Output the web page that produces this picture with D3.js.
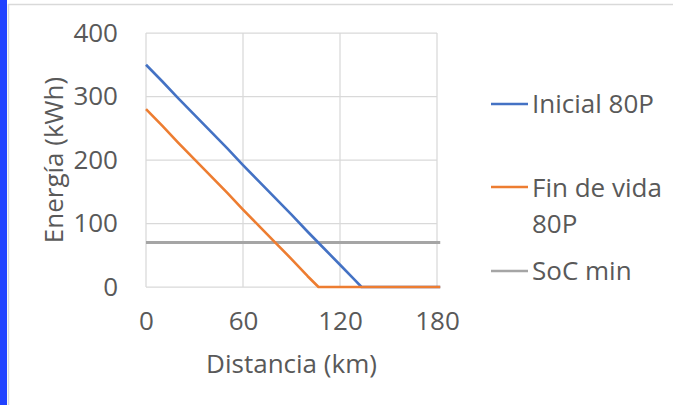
<!DOCTYPE html>
<html>
<head>
<meta charset="utf-8">
<script src="https://cdn.jsdelivr.net/npm/d3@7"></script>
<style>
  html, body { margin: 0; padding: 0; background: #ffffff; }
  svg { display: block; }
  text { font-family: "Open Sans", "Noto Sans", sans-serif; fill: #595959; }
</style>
</head>
<body>
<svg id="chart" width="673" height="405"></svg>
<script>
// ---- Data ----
const seriesNames = ["Inicial 80P", "Fin de vida 80P", "SoC min"];
const inicialX = [0, 10, 20, 30, 40, 50, 60, 70, 80, 90, 100, 110, 120, 130, 133.3, 150, 182];
const inicialY = [350, 324, 297, 271, 245, 219, 192, 166, 140, 114, 87, 61, 35, 9, 0, 0, 0];
const finVidaX = [0, 10, 20, 30, 40, 50, 60, 70, 80, 90, 100, 106.7, 140, 182];
const finVidaY = [280, 254, 227, 201, 175, 149, 122, 96, 70, 44, 17, 0, 0, 0];
const socMinX = [0, 182];
const socMinY = [70, 70];
const xTicks = [0, 60, 120, 180];
const yTicks = [0, 100, 200, 300, 400];
const xTitle = "Distancia (km)";
const yTitle = "Energía (kWh)";

const colors = ["#4472C4", "#ED7D31", "#A5A5A5"];
const FS = 26;

const svg = d3.select("#chart");

// page frame
svg.append("rect").attr("x", 0).attr("y", 0).attr("width", 7).attr("height", 405).attr("fill", "#2042ff");
svg.append("line").attr("x1", 8.5).attr("x2", 8.5).attr("y1", 4).attr("y2", 405)
  .attr("stroke", "#d9d9d9").attr("stroke-width", 1.5);
svg.append("line").attr("x1", 8).attr("x2", 673).attr("y1", 4.5).attr("y2", 4.5)
  .attr("stroke", "#d9d9d9").attr("stroke-width", 1.5);

const x = d3.scaleLinear().domain([0, 180]).range([146, 437]);
const y = d3.scaleLinear().domain([0, 400]).range([287, 33]);

// gridlines
const grid = svg.append("g");
grid.selectAll("line.h").data(yTicks).join("line")
  .attr("x1", x(0)).attr("x2", x(180))
  .attr("y1", d => y(d)).attr("y2", d => y(d))
  .attr("stroke", "#d9d9d9").attr("stroke-width", 1.25);
grid.selectAll("line.v").data(xTicks).join("line")
  .attr("x1", d => x(d)).attr("x2", d => x(d))
  .attr("y1", y(0)).attr("y2", y(400))
  .attr("stroke", "#d9d9d9").attr("stroke-width", 1.25);

// axes (labels only)
const yAxis = svg.append("g").attr("transform", `translate(${x(0)},0)`)
  .call(d3.axisLeft(y).tickValues(yTicks).tickSize(0).tickPadding(28));
const xAxis = svg.append("g").attr("transform", `translate(0,${y(0)})`)
  .call(d3.axisBottom(x).tickValues(xTicks).tickSize(0).tickPadding(25));
[yAxis, xAxis].forEach(a => {
  a.select(".domain").remove();
  a.selectAll("text").attr("font-size", FS).attr("fill", "#595959")
    .attr("font-family", "\"Open Sans\", sans-serif");
});

// axis titles
svg.append("text").attr("x", (x(0) + x(180)) / 2).attr("y", 373)
  .attr("text-anchor", "middle").attr("font-size", FS).text(xTitle);
svg.append("text")
  .attr("transform", `translate(63,${(y(0) + y(400)) / 2}) rotate(-90)`)
  .attr("text-anchor", "middle").attr("font-size", FS).text(yTitle);

// lines
const series = [
  { name: seriesNames[0], xs: inicialX, ys: inicialY, color: colors[0], w: 2.6 },
  { name: seriesNames[1], xs: finVidaX, ys: finVidaY, color: colors[1], w: 2.6 },
  { name: seriesNames[2], xs: socMinX, ys: socMinY, color: colors[2], w: 3 }
];
const lineGen = d3.line().x(d => x(d[0])).y(d => y(d[1]));
[series[2], series[0], series[1]].forEach(s => {
  svg.append("path")
    .datum(s.xs.map((v, i) => [v, s.ys[i]]))
    .attr("d", lineGen)
    .attr("fill", "none")
    .attr("stroke", s.color)
    .attr("stroke-width", s.w)
    .attr("stroke-linejoin", "round");
});

// legend
const legend = [
  { lines: ["Inicial 80P"], ly: 104, base: 113, color: colors[0] },
  { lines: ["Fin de vida", "80P"], ly: 187, base: 197, color: colors[1] },
  { lines: ["SoC min"], ly: 271, base: 280, color: colors[2] }
];
legend.forEach(l => {
  svg.append("line").attr("x1", 491).attr("x2", 528).attr("y1", l.ly).attr("y2", l.ly)
    .attr("stroke", l.color).attr("stroke-width", 2.6);
  const t = svg.append("text").attr("x", 532).attr("y", l.base).attr("font-size", FS);
  l.lines.forEach((s, i) => {
    t.append("tspan").attr("x", 532).attr("dy", i === 0 ? 0 : 36).text(s);
  });
});
</script>
</body>
</html>
